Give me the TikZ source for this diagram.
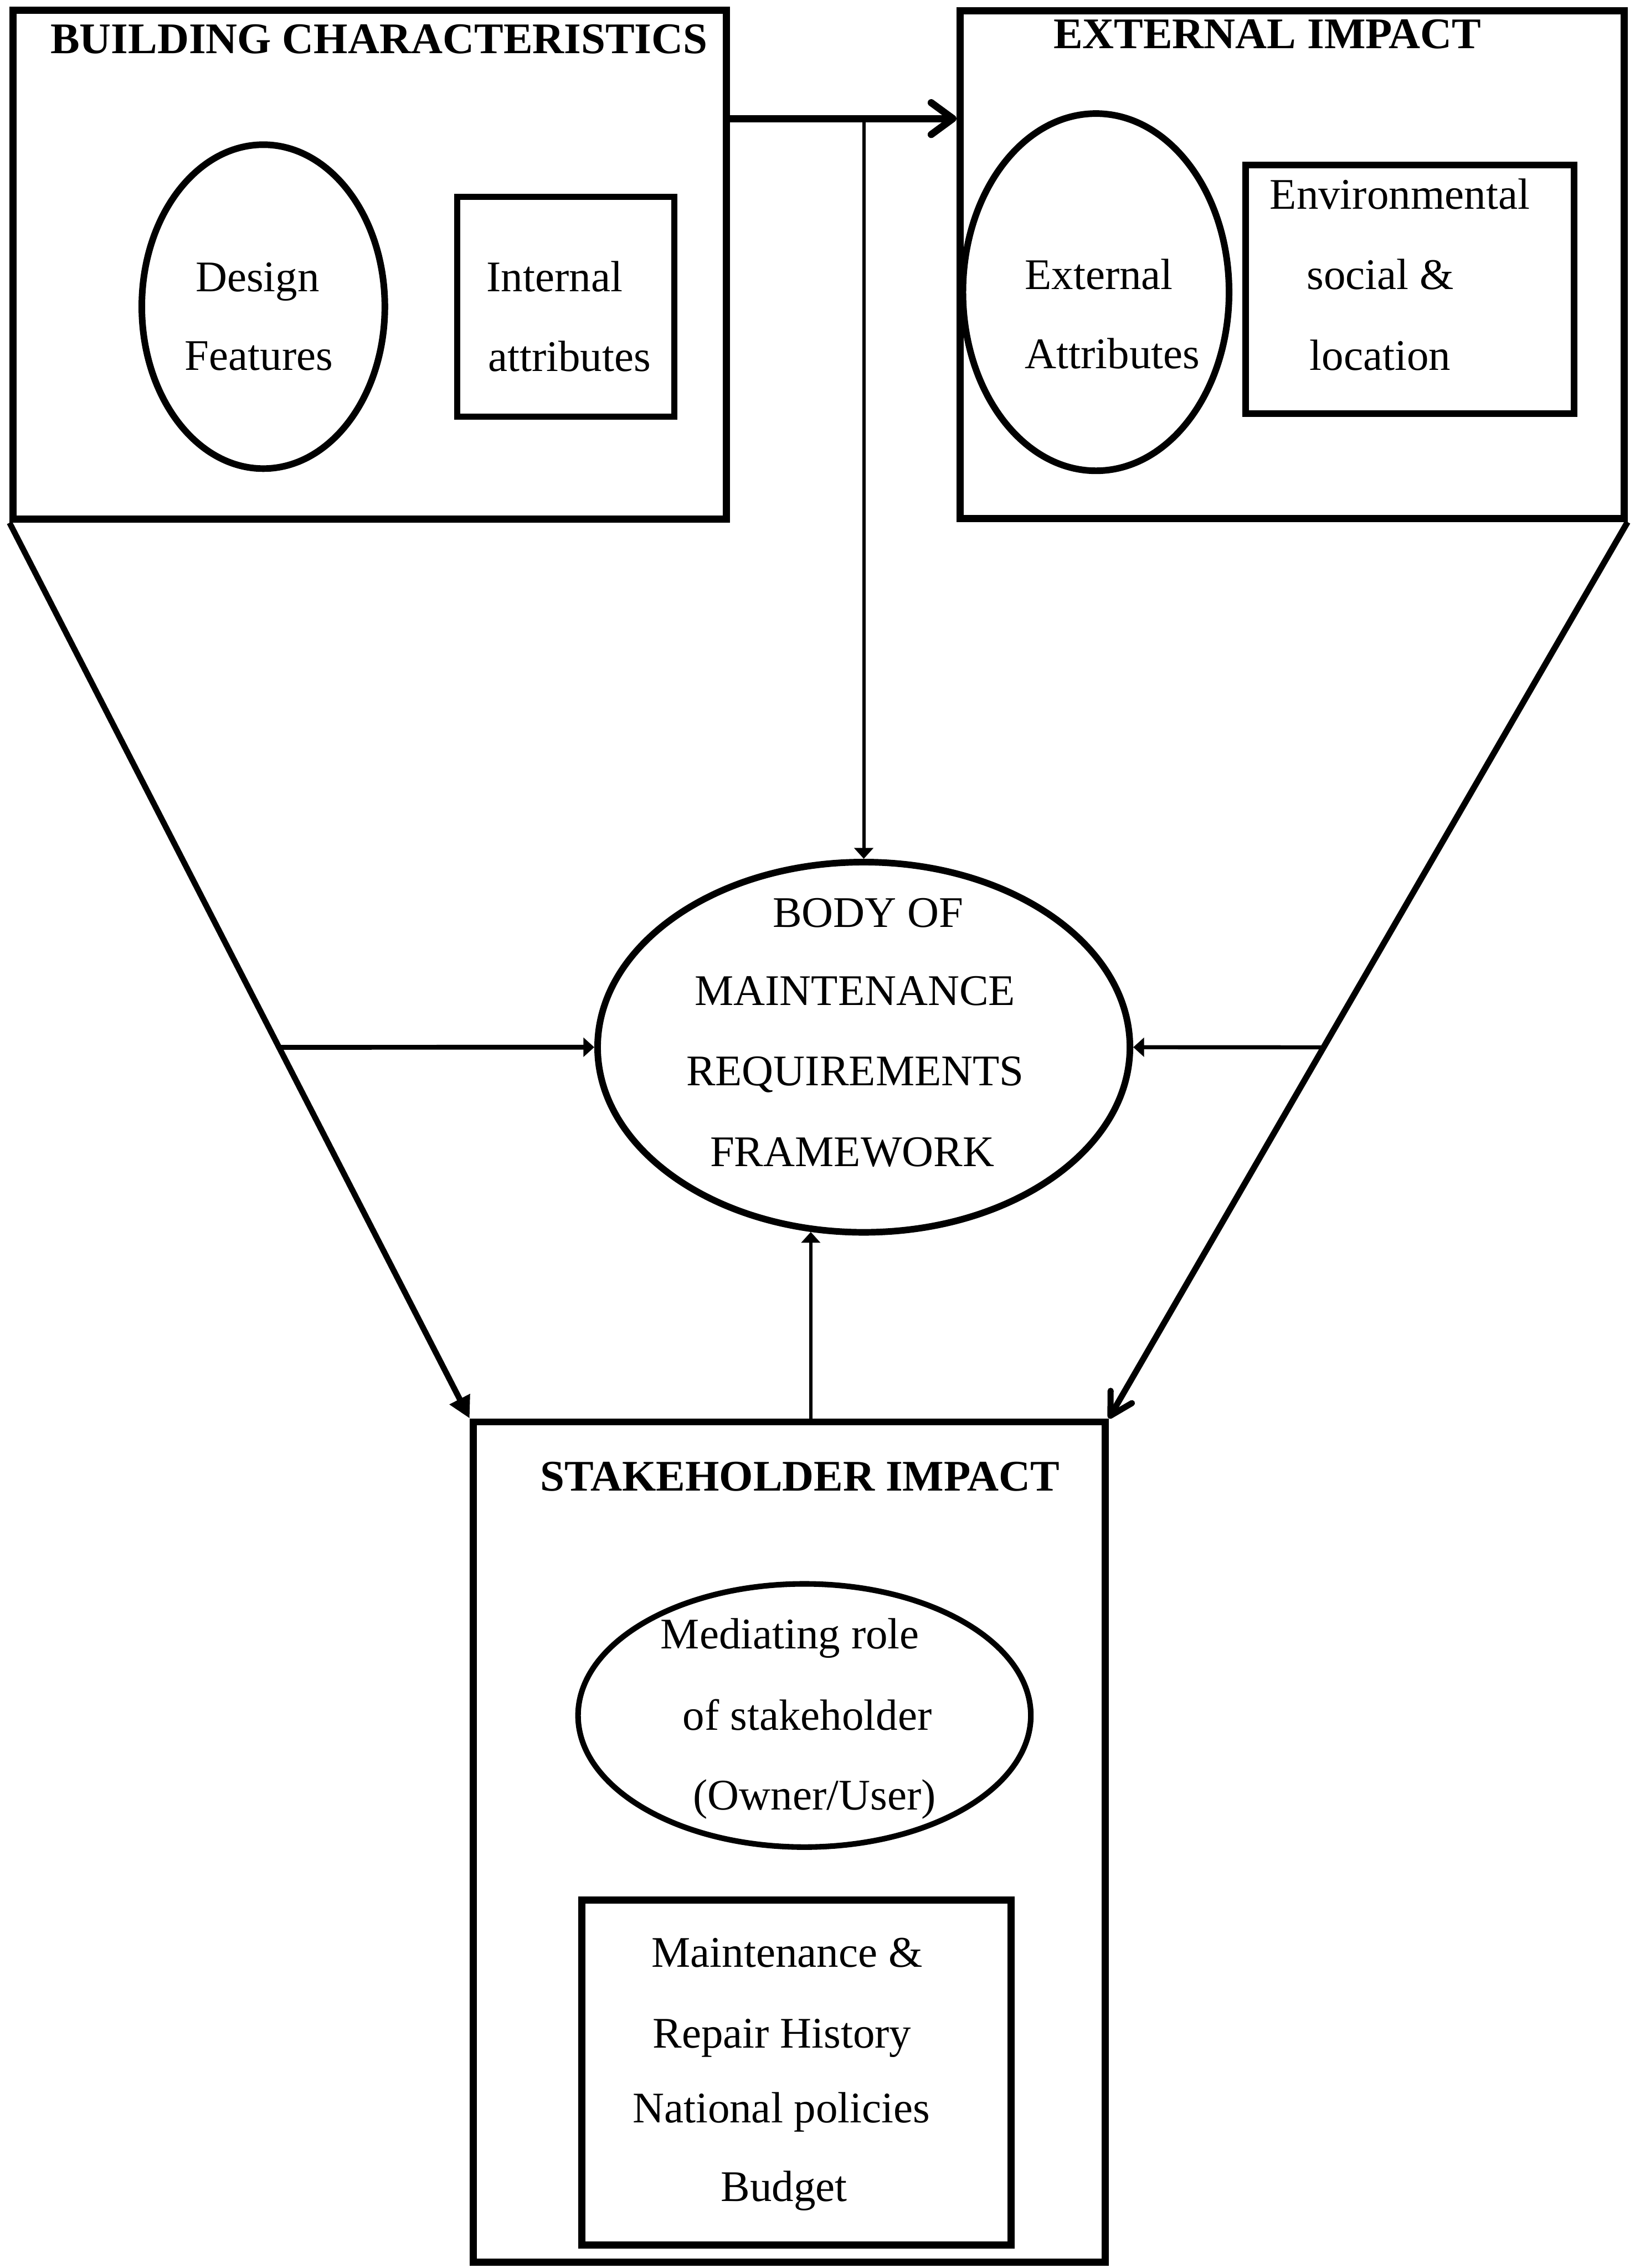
\documentclass[tikz,border=0pt]{standalone}
\usepackage{fontspec}
\setmainfont{Liberation Serif}
\usetikzlibrary{shapes.geometric, arrows.meta}

\tikzset{
  lbl/.style={font=\fontsize{17.2pt}{20pt}\selectfont, inner sep=0pt, anchor=base},
  ttl/.style={lbl, font=\fontsize{17.2pt}{20pt}\selectfont\bfseries},
  outerbox/.style={draw, line width=2.8pt, rectangle, inner sep=0pt},
  innerbox/.style={draw, line width=2.5pt, rectangle, inner sep=0pt},
  oval/.style={draw, line width=2.6pt, ellipse, inner sep=0pt},
  mainflow/.style={line width=2.8pt, -{Straight Barb[length=0.3cm,width=0.44cm,round]}},
  funnelL/.style={line width=2.3pt, -{Triangle[length=0.3cm,width=0.3cm]}},
  funnelR/.style={line width=2.4pt, -{Straight Barb[length=0.3cm,width=0.34cm,round]}},
  feed/.style={line width=1.3pt, -{Triangle[length=0.15cm,width=0.26cm]}},
}

\begin{document}
\begin{tikzpicture}[x=0.02cm, y=-0.02cm]
  \fill[white] (0,0) rectangle (1130,1568);
  \useasboundingbox (0,0) rectangle (1130,1568);

  % Building characteristics
  \node[outerbox, minimum width=9.86cm, minimum height=7.04cm] (BC) at (255.5,183) {};
  \node[ttl] (BCt) at (262,37) {BUILDING CHARACTERISTICS};
  \node[oval, minimum width=3.36cm, minimum height=4.48cm] (DF) at (182,212) {};
  \node[lbl] (DF1) at (178,201.5) {Design};
  \node[lbl] (DF2) at (179,256) {Features};
  \node[innerbox, minimum width=3.0cm, minimum height=3.04cm] (IA) at (391,212) {};
  \node[lbl, anchor=base west] (IA1) at (336,201.5) {Internal};
  \node[lbl, anchor=base west] (IA2) at (337,256.5) {attributes};

  % External impact
  \node[outerbox, minimum width=9.18cm, minimum height=7.02cm] (EI) at (893,183) {};
  \node[ttl] (EIt) at (876,33.4) {EXTERNAL IMPACT};
  \node[oval, minimum width=3.68cm, minimum height=4.94cm] (EA) at (757.5,202) {};
  \node[lbl, anchor=base west] (EA1) at (708,200) {External};
  \node[lbl, anchor=base west] (EA2) at (708,254.7) {Attributes};
  \node[innerbox, minimum width=4.54cm, minimum height=3.44cm] (ES) at (974.5,200) {};
  \node[lbl] (ES1) at (967.5,144.6) {Environmental};
  \node[lbl] (ES2) at (954,200) {social \&};
  \node[lbl] (ES3) at (954,256) {location};

  % Central framework
  \node[oval, minimum width=7.36cm, minimum height=5.12cm] (MR) at (597,724) {};
  \node[lbl] (MR1) at (600,641) {BODY OF};
  \node[lbl] (MR2) at (591,694.8) {MAINTENANCE};
  \node[lbl] (MR3) at (591,750.6) {REQUIREMENTS};
  \node[lbl] (MR4) at (589,806.4) {FRAMEWORK};

  % Stakeholder impact
  \node[outerbox, minimum width=8.74cm, minimum height=11.62cm] (SH) at (545.5,1273.5) {};
  \node[ttl] (SHt) at (553,1030.6) {STAKEHOLDER IMPACT};
  \node[oval, line width=2.2pt, minimum width=6.26cm, minimum height=3.64cm] (MS) at (556,1186) {};
  \node[lbl] (MS1) at (546,1139.8) {Mediating role};
  \node[lbl] (MS2) at (558,1196) {of stakeholder};
  \node[lbl] (MS3) at (563,1251.3) {(Owner/User)};
  \node[innerbox, line width=2.8pt, minimum width=5.94cm, minimum height=4.77cm] (HB) at (550.5,1432.8) {};
  \node[lbl] (HB1) at (544,1359.8) {Maintenance \&};
  \node[lbl] (HB2) at (540.5,1416) {Repair History};
  \node[lbl] (HB3) at (540,1467.4) {National policies};
  \node[lbl] (HB4) at (542,1522) {Budget};

  % Connectors
  \coordinate (flowY) at (0,82);
  \draw[mainflow] (BC.east |- flowY) -- (EI.west |- flowY);
  \coordinate (jB) at (MR.north |- flowY);
  \draw[feed] (jB) -- (MR.north);
  \draw[funnelL] (BC.south west) -- (SH.north west);
  \draw[funnelR] (EI.south east) -- (SH.north east);
  \draw[feed, line width=1.9pt] (intersection of BC.south west--SH.north west and MR.west--MR.east) -- (MR.west);
  \draw[feed, line width=1.6pt] (intersection of EI.south east--SH.north east and MR.west--MR.east) -- (MR.east);
  \draw[feed] (MR.254 |- SH.north) -- (MR.254);
\end{tikzpicture}
\end{document}
